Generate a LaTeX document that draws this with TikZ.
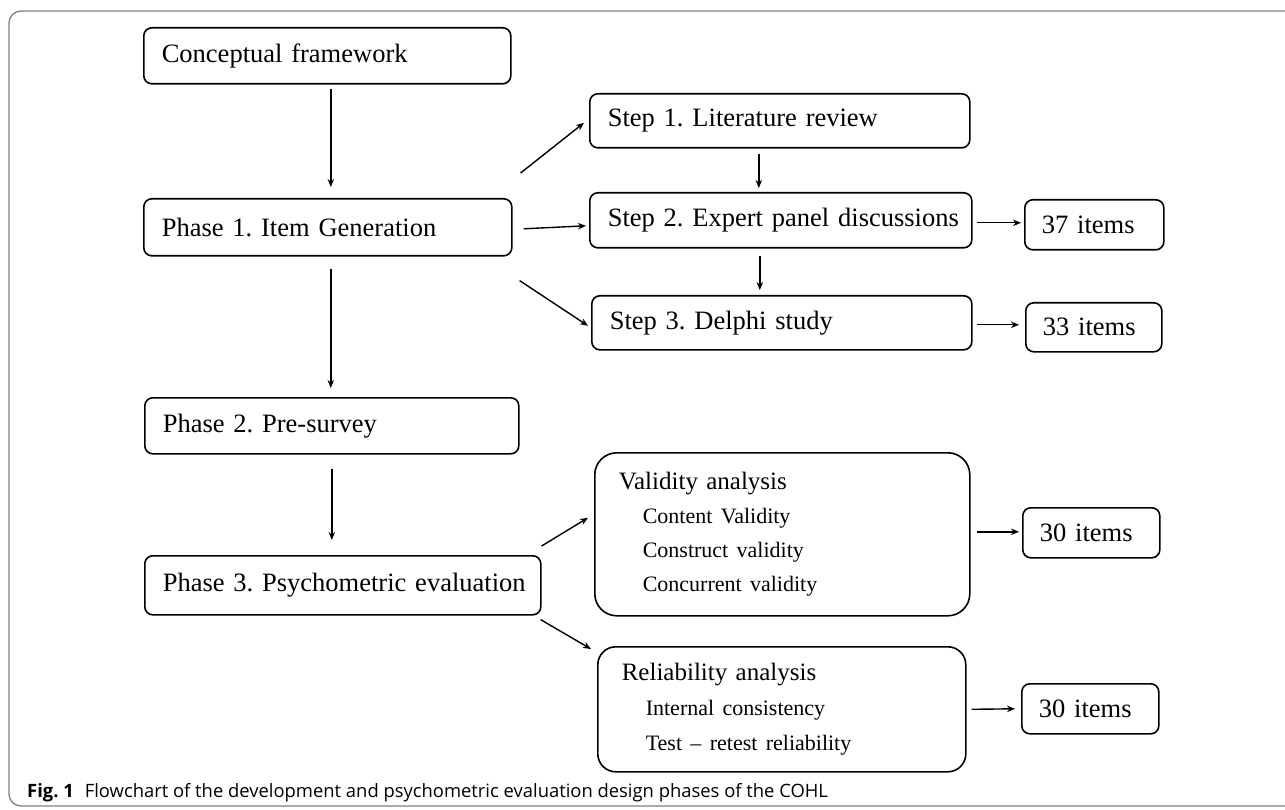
\documentclass[tikz,border=0pt]{standalone}
\usepackage{fontspec}
\setmainfont{Liberation Serif}
\newfontfamily\capfont{Open Sans}
\usetikzlibrary{arrows.meta}

\newcommand{\inditem}[1]{\hspace*{24pt}{\fontsize{22}{34}\selectfont #1}}

\begin{document}
\frenchspacing
\begin{tikzpicture}[x=1pt, y=-1pt,
        box/.style={draw, line width=1.6pt, rounded corners=8pt, inner xsep=18pt, inner ysep=0pt,
            minimum height=56pt, align=left, anchor=north west, font=\fontsize{26.5}{34}\selectfont},
        numbox/.style={box, inner xsep=17pt, minimum height=50pt},
        arr/.style={-{Stealth[length=8pt,width=6.5pt]}, line width=1.4pt}]
        \useasboundingbox (0,0) rectangle (1285,810);

        % outer frame, open to the right
        \draw[gray, line width=1.3pt, rounded corners=12pt] (9,11) rectangle (1320,806);

        \node[box, text width=331pt] (cf) at (143,27) {\mbox{Conceptual framework}};
        \node[box, text width=332pt, minimum height=57pt] (p1) at (143,198) {\mbox{Phase 1. Item Generation}};
        \node[box, text width=338pt] (p2) at (144,397) {\mbox{Phase 2. Pre-survey}};
        \node[box, text width=360pt, minimum height=59pt] (p3) at (144,555) {\mbox{Phase 3. Psychometric evaluation}};

        \node[box, text width=344pt, minimum height=54pt] (s1) at (589,93) {\mbox{Step 1. Literature review}};
        \node[box, text width=346pt, minimum height=55pt] (s2) at (589,192) {\mbox{Step 2. Expert panel discussions}};
        \node[box, text width=344pt, minimum height=54pt] (s3) at (591,295) {\mbox{Step 3. Delphi study}};

        \node[numbox, text width=105pt] (n37) at (1024,199) {37 items};
        \node[numbox, text width=102pt, minimum height=49pt] (n33) at (1025,302) {33 items};

        \node[box, text width=327pt, minimum height=163pt, rounded corners=22pt, inner xsep=24pt,
            font=\fontsize{25}{34}\selectfont] (val) at (594,452)
            {Validity analysis\\ \inditem{Content Validity}\\ \inditem{Construct validity}\\ \inditem{Concurrent validity}};
        \node[box, text width=320pt, minimum height=125pt, rounded corners=18pt, inner xsep=24pt,
            font=\fontsize{25}{35}\selectfont] (rel) at (597,646)
            {Reliability analysis\\ \inditem{Internal consistency}\\ \inditem{Test -- retest reliability}};

        \node[numbox, text width=103pt] (n30a) at (1022,507) {30 items};
        \node[numbox, text width=103pt] (n30b) at (1021,683) {30 items};

        \draw[arr] ([shift={(3.5,4)}]cf.south) -- ([shift={(3,-11)}]p1.north);
        \draw[arr] ([shift={(3,12)}]p1.south) -- ([shift={(-1,-9)}]p2.north);
        \draw[arr] ([shift={(0,14)}]p2.south) -- ([shift={(-11,-15)}]p3.north);

        \draw[arr] ([shift={(8,-25)}]p1.north east) -- ([shift={(-5,2)}]s1.west);
        \draw[arr] ([shift={(11,1.5)}]p1.east) -- ([shift={(-3,5.5)}]s2.west);
        \draw[arr] ([shift={(7,24)}]p1.south east) -- ([shift={(-3,3)}]s3.west);

        \draw[arr] ([shift={(-21,5)}]s1.south) -- ([shift={(-22,-4)}]s2.north);
        \draw[arr] ([shift={(-21,7)}]s2.south) -- ([shift={(-22,-5)}]s3.north);

        \draw[arr] ([shift={(4,2.5)}]s2.east) -- ([shift={(-3,-2)}]n37.west);
        \draw[arr] ([shift={(4,2)}]s3.east) -- ([shift={(-6,-2.5)}]n33.west);

        \draw[arr] ([shift={(0,-9)}]p3.north east) -- ([shift={(-6,-16.5)}]val.west);
        \draw[arr] ([shift={(-1,4)}]p3.south east) -- ([shift={(-6,3)}]rel.north west);

        \draw[arr] ([shift={(6,-2.5)}]val.east) -- ([shift={(-3,-1)}]n30a.west);
        \draw[arr] ([shift={(5,0)}]rel.east) -- ([shift={(-6,0)}]n30b.west);

        \node[anchor=base west, inner sep=0pt, font=\capfont\fontsize{18.4}{22}\selectfont] (cap) at (27,797)
            {\textbf{Fig. 1}\hspace{11pt}Flowchart of the development and psychometric evaluation design phases of the COHL};
\end{tikzpicture}
\end{document}
